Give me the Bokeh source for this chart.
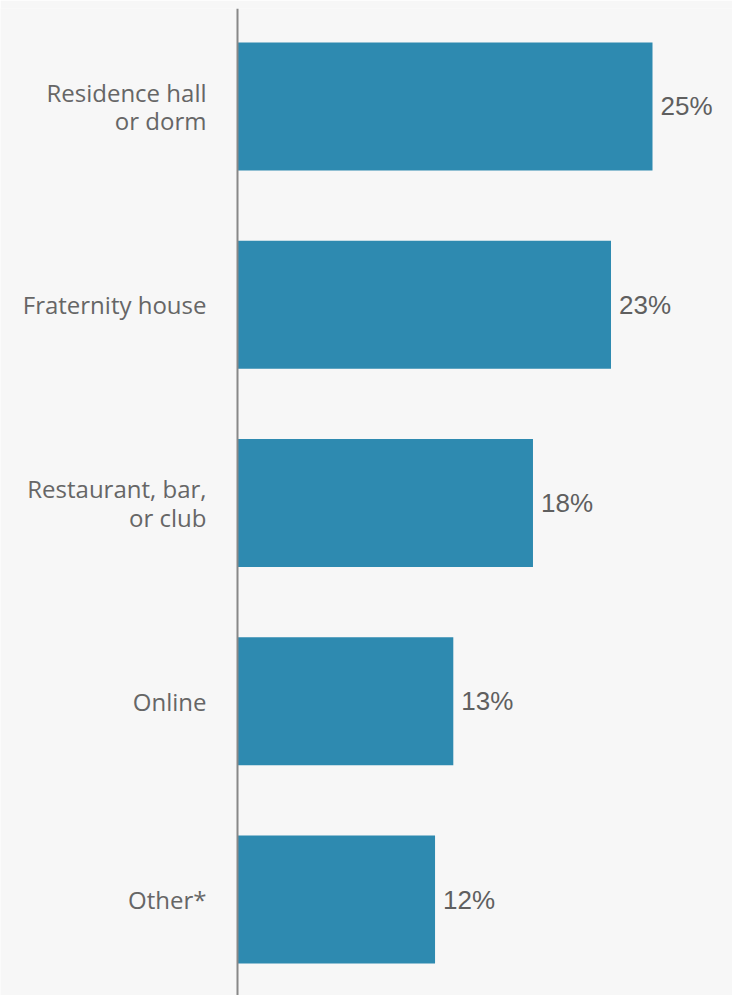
from bokeh.plotting import figure
from bokeh.models import Range1d, Span, ColumnDataSource
from bokeh.core.properties import value
from bokeh.embed import file_html
from bokeh.resources import INLINE

categories = ["Residence hall\nor dorm", "Fraternity house", "Restaurant, bar,\nor club", "Online", "Other*"]
values = [25.0, 22.5, 17.8, 13.0, 11.9]
value_labels = ["25%", "23%", "18%", "13%", "12%"]

W, H = 732, 995
zero_px = 237
px_per_unit = 16.6

positions = list(range(len(categories)))
src = ColumnDataSource(dict(y=positions, v=values, cat=categories, lab=value_labels,
                            zero=[0] * len(values)))

p = figure(width=W, height=H, output_backend="svg", toolbar_location=None,
           x_range=Range1d(-zero_px / px_per_unit, (W - zero_px) / px_per_unit),
           y_range=Range1d(4.484, -0.494),
           min_border=0, min_border_top=8,
           background_fill_color="#f7f7f7", border_fill_color="#f7f7f7")
p.xaxis.visible = False
p.yaxis.visible = False
p.xgrid.visible = False
p.ygrid.visible = False
p.outline_line_color = None

p.hbar(y="y", left=0, right="v", height=0.646, source=src,
       fill_color="#2e8ab0", line_color=None)

p.text(x="v", y="y", text="lab", source=src, x_offset=8,
       text_font=value("Liberation Sans"), text_font_size="26px",
       text_color="#5f5f5f", text_baseline="middle", text_align="left")

p.text(x="zero", y="y", text="cat", source=src, x_offset=-31,
       text_font=value("Open Sans"), text_font_size="24px",
       text_color="#666666", text_baseline="middle", text_align="right",
       text_line_height=0.87)

p.add_layout(Span(location=0, dimension="height", line_color="#888888", line_width=2))

open("out.html", "w").write(file_html(p, INLINE))
